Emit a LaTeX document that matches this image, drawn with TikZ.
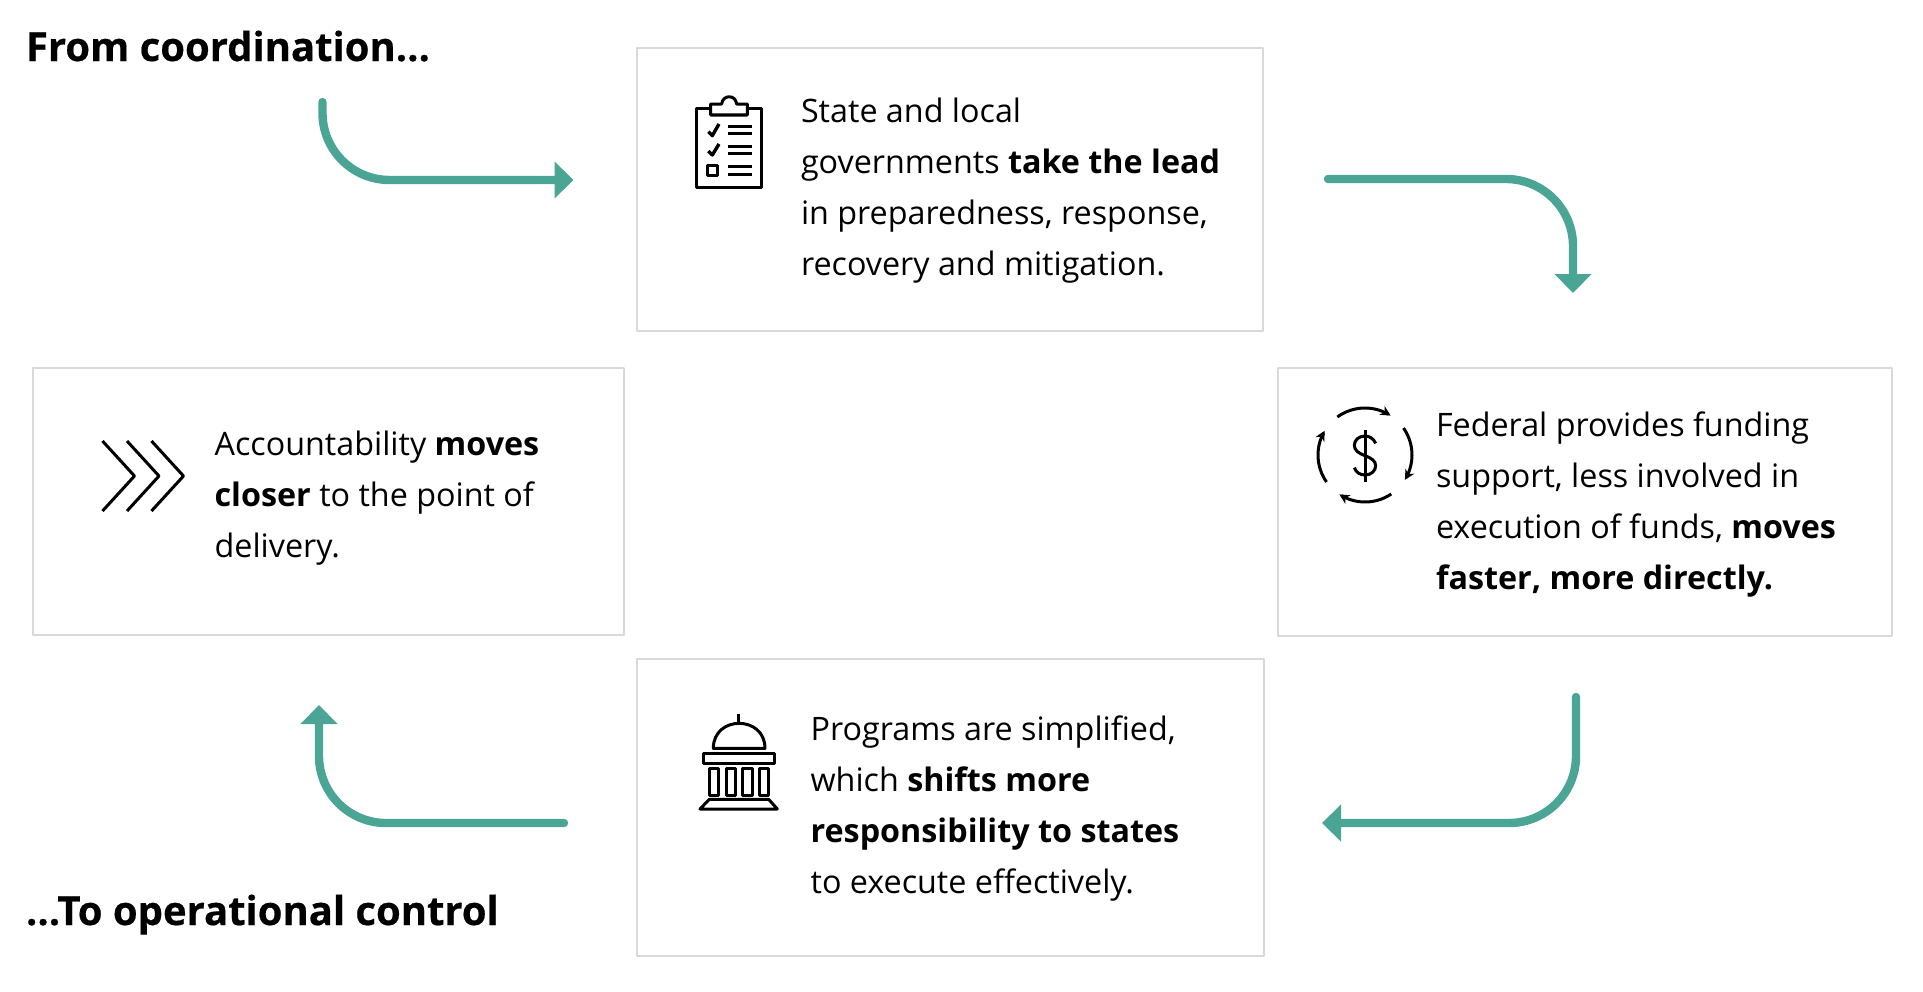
\documentclass[tikz,border=0pt]{standalone}
\usepackage{fontspec}
\setmainfont{Open Sans}
\newfontfamily\headfont{Open Sans}[BoldFeatures={FakeBold=0.5}]
\usetikzlibrary{arrows.meta}
\definecolor{teal1}{HTML}{4BA595}
\definecolor{edge1}{HTML}{D9D9D9}
\tikzset{
  panel/.style={draw=edge1,line width=2pt,fill=white},
  body/.style={inner sep=0pt,outer sep=0pt,anchor=north west,align=left,text=black,font=\fontsize{32.3}{51}\selectfont},
  head/.style={inner sep=0pt,outer sep=0pt,anchor=base west,text=black,font=\fontsize{40}{46}\headfont\bfseries},
  flow/.style={draw=teal1,line width=8.4pt,line cap=round,-{Triangle[length=19pt,width=36pt]}},
  ink/.style={draw=black,line width=3pt},
}
\begin{document}
\begin{tikzpicture}[x=1pt,y=-1pt,line join=round]
\useasboundingbox (0,0) rectangle (1923,991);
% panels
\path[panel] (636.5,48) rectangle (1263,331);
\path[panel] (33,368) rectangle (624,635);
\path[panel] (1278,368) rectangle (1892,636);
\path[panel] (636.5,659) rectangle (1264,956);
% headings
\node[head] (h1) at (26,61) {From coordination...};
\node[head] (h2) at (26,925) {...To operational control};
% text
\node[body] (t1) at (801,98) {State and local\\governments \textbf{take the lead}\\in preparedness, response,\\recovery and mitigation.};
\node[body] (t2) at (1436,411.5) {Federal provides funding\\support, less involved in\\execution of funds, \textbf{moves}\\\textbf{faster, more directly.}};
\node[body] (t3) at (810.6,716) {Programs are simplified,\\which \textbf{shifts more}\\\textbf{responsibility to states}\\to execute effectively.};
\node[body] (t4) at (214.6,430.5) {Accountability \textbf{moves}\\\textbf{closer} to the point of\\delivery.};
% connectors
\coordinate (a1s) at (322.5,102);
\coordinate (a1e) at (573.5,180);
\coordinate (a2s) at (1328,179);
\coordinate (a2e) at (1573,293);
\coordinate (a3s) at (1576,697);
\coordinate (a3e) at (1322,823);
\coordinate (a4s) at (564,823);
\coordinate (a4e) at (319,705);
\draw[flow,rounded corners=67pt] (a1s) |- (a1e);
\draw[flow,rounded corners=67pt] (a2s) -| (a2e);
\draw[flow,rounded corners=67pt] (a3s) |- (a3e);
\draw[flow,rounded corners=67pt] (a4s) -| (a4e);
% clipboard
\begin{scope}[shift={(680,85)},x=0.3333pt,y=-0.3333pt]
\draw[ink] (50,70) rectangle (246,308);
\draw[ink,fill=white] (92,90) -- (92,57) -- (125,57) .. controls (128,28) and (167,28) .. (170,57) -- (202,57) -- (202,90) -- cycle;
\foreach \yy in {125,147,185,207,246,268} \draw[ink] (143,\yy) -- (215,\yy);
\draw[ink,line width=3.4pt] (85,140) -- (97,152) -- (117,117);
\draw[ink,line width=3.4pt] (85,198) -- (97,210) -- (117,177);
\draw[ink] (82,243) rectangle (113,273);
\end{scope}
% dollar
\begin{scope}[shift={(1310,400)},x=0.3333pt,y=-0.3333pt]
\draw[ink,-{Stealth[length=10pt,width=10pt]}] plot[domain=126:57,samples=20] ({165+141*cos(\x)},{165-141*sin(\x)});
\draw[ink,-{Stealth[length=10pt,width=10pt]}] plot[domain=35:-32,samples=20] ({165+141*cos(\x)},{165-141*sin(\x)});
\draw[ink,-{Stealth[length=10pt,width=10pt]}] plot[domain=-56:-123,samples=20] ({165+141*cos(\x)},{165-141*sin(\x)});
\draw[ink,-{Stealth[length=10pt,width=10pt]}] plot[domain=215:149,samples=20] ({165+141*cos(\x)},{165-141*sin(\x)});
\draw[ink] (165,90) -- (165,245);
\draw[ink] (197,130) .. controls (190,115) and (178,108) .. (165,108) .. controls (147,108) and (133,120) .. (133,136) .. controls (133,152) and (147,160) .. (165,167) .. controls (183,174) and (197,182) .. (197,197) .. controls (197,213) and (183,225) .. (165,225) .. controls (150,225) and (138,217) .. (133,203);
\end{scope}
% capitol
\begin{scope}[shift={(690,710)},x=0.3333pt,y=-0.3333pt]
\draw[ink] (146,12) -- (146,40);
\draw[ink] (70,115) .. controls (70,15) and (225,15) .. (225,115) -- cycle;
\draw[ink] (40,130) rectangle (255,160);
\foreach \xa/\xb in {57/85,108/136,158/186,208/237} \draw[ink] (\xa,175) rectangle (\xb,255);
\draw[ink] (30,297) -- (262,297) -- (236,268) -- (58,268) -- cycle;
\end{scope}
% chevrons
\foreach \dx in {0,24.5,49} \draw[ink,shift={(\dx,0)}] (102.5,441) -- (134.5,476) -- (102.5,511);
\end{tikzpicture}
\end{document}
